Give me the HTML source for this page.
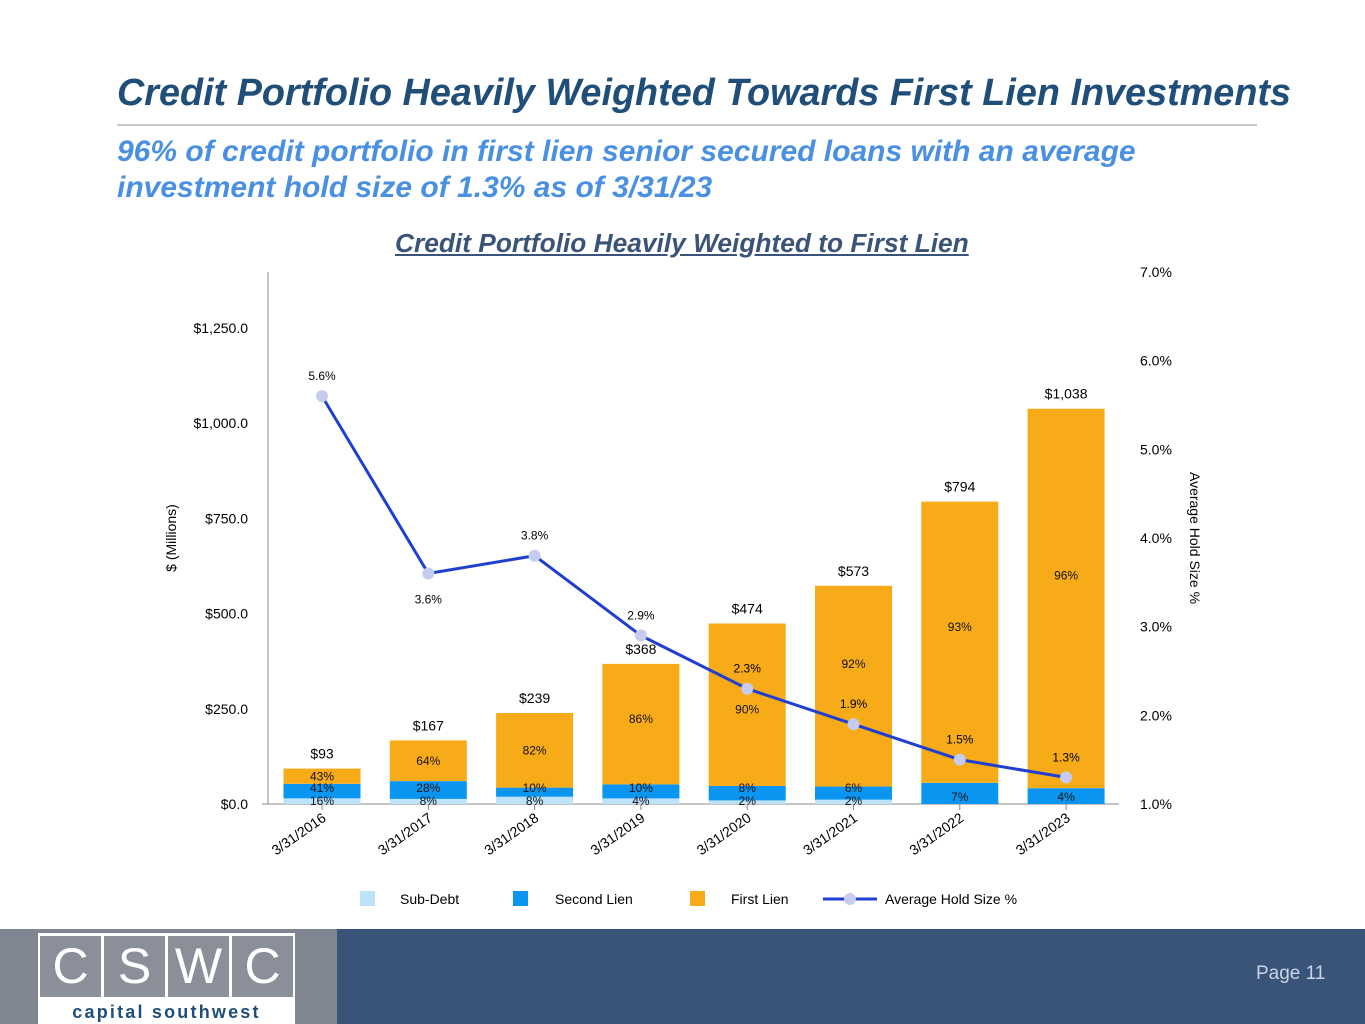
<!DOCTYPE html>
<html><head><meta charset="utf-8"><style>
body{margin:0;width:1365px;height:1024px;overflow:hidden;background:#fff;font-family:"Liberation Sans",Arial,sans-serif;position:relative}
.t{position:absolute;font-weight:bold;font-style:italic}
</style></head><body>
<div class="t" style="left:117px;top:72px;font-size:37.8px;color:#1f4e79;white-space:nowrap">Credit Portfolio Heavily Weighted Towards First Lien Investments</div>
<div style="position:absolute;left:117px;top:124px;width:1140px;height:2px;background:#c8c8c8"></div>
<div class="t" style="left:117px;top:134px;font-size:30px;line-height:36px;color:#4a90e2;white-space:nowrap">96% of credit portfolio in first lien senior secured loans with an average<br>investment hold size of 1.3% as of 3/31/23</div>
<div class="t" style="left:395px;top:228px;font-size:26.3px;color:#3a5479;text-decoration:underline;white-space:nowrap">Credit Portfolio Heavily Weighted to First Lien</div>
<svg id="chart" width="1365" height="929" style="position:absolute;left:0;top:0" font-family="Liberation Sans, Arial, sans-serif"></svg>
<div style="position:absolute;left:0;top:929px;width:1365px;height:95px;background:#3a5479"></div>
<div style="position:absolute;left:0;top:929px;width:337px;height:95px;background:#7f8591"></div>
<div style="position:absolute;left:38px;top:933px;width:257px;height:91px;background:#fff">
<div style="position:absolute;left:2px;top:3px;display:flex;gap:3px">
<div style="width:61px;height:61px;background:#8a8f99;color:#fff;font-size:50px;text-align:center;line-height:61px">C</div>
<div style="width:61px;height:61px;background:#8a8f99;color:#fff;font-size:50px;text-align:center;line-height:61px">S</div>
<div style="width:61px;height:61px;background:#8a8f99;color:#fff;font-size:50px;text-align:center;line-height:61px">W</div>
<div style="width:61px;height:61px;background:#8a8f99;color:#fff;font-size:50px;text-align:center;line-height:61px">C</div></div>
<div style="position:absolute;left:0;width:257px;top:69px;text-align:center;color:#1f4e79;font-size:18px;letter-spacing:2.2px;font-weight:bold">capital southwest</div></div>
<div style="position:absolute;left:1256px;top:963px;color:#c8d4e6;font-size:19px">Page 11</div>
<script>
const categories=["3/31/2016","3/31/2017","3/31/2018","3/31/2019","3/31/2020","3/31/2021","3/31/2022","3/31/2023"];
const totals=[93,167,239,368,474,573,794,1038];
const subDebt=[16,8,8,4,2,2,0,0];
const secondLien=[41,28,10,10,8,6,7,4];
const firstLien=[43,64,82,86,90,92,93,96];
const holdSize=[5.6,3.6,3.8,2.9,2.3,1.9,1.5,1.3];
const leftTicks=[0,250,500,750,1000,1250];
const rightTicks=[1,2,3,4,5,6,7];
const svg=document.getElementById('chart');const NS='http://www.w3.org/2000/svg';
function mk(t,a,txt){const e=document.createElementNS(NS,t);for(const k in a)e.setAttribute(k,a[k]);if(txt!==undefined)e.textContent=txt;svg.appendChild(e);return e;}
const y0=804,yTop=272;
const yL=v=>y0-v*(95.2/250);
const yR=v=>y0-(v-1)*(y0-yTop)/6;
const xC=i=>322+i*106.3;
const bw=77;
const fOff=[0,0,0,-5,5,-22,-15,-23];
let e;
e=mk('line',{x1:268,y1:yTop,x2:268,y2:y0,stroke:'#888'});
e=mk('line',{x1:262,y1:y0,x2:1119,y2:y0,stroke:'#888'});
leftTicks.forEach(v=>{e=mk('text',{x:248,y:yL(v)+5,'text-anchor':'end','font-size':14},'$'+v.toLocaleString('en-US',{minimumFractionDigits:1}));});
rightTicks.forEach(v=>{e=mk('text',{x:1140,y:yR(v)+5,'font-size':14},v.toFixed(1)+'%');});
e=mk('text',{x:0,y:0,'font-size':14,'text-anchor':'middle',transform:'translate(176,538) rotate(-90)'},'$ (Millions)');
e=mk('text',{x:0,y:0,'font-size':14,'text-anchor':'middle',transform:'translate(1190,538) rotate(90)'},'Average Hold Size %');
categories.forEach((c,i)=>{
 const x=xC(i),t=totals[i];
 const segs=[[subDebt[i],'#bde3fb','sub-debt'],[secondLien[i],'#0a96f0','second-lien'],[firstLien[i],'#f8ab19','first-lien']];
 let acc=0;
 segs.forEach(s=>{const v=t*s[0]/100;const ya=yL(acc+v),yb=yL(acc);
  e=mk('rect',{x:x-bw/2,y:ya,width:bw,height:Math.max(0,yb-ya),fill:s[1]});
  acc+=v;});
 const yt=yL(t);
 const yF=yL(t*(subDebt[i]+secondLien[i])/100);
 const lbl=(txt,y,n)=>{e=mk('text',{x:x,y:y,'text-anchor':'middle','font-size':12,fill:'#111'},txt);};
 if(subDebt[i]>0)lbl(subDebt[i]+'%',y0+1,'label-sub-debt');
 lbl(secondLien[i]+'%',subDebt[i]>0?y0-12:y0-3,'label-second-lien');
 const fy=i==0?yt+8:(yt+yF)/2+fOff[i];
 lbl(firstLien[i]+'%',fy+4,'label-first-lien');
 e=mk('text',{x:x,y:yt-10,'text-anchor':'middle','font-size':14},'$'+t.toLocaleString('en-US'));
 e=mk('line',{x1:x,y1:y0,x2:x,y2:y0+6,stroke:'#888'});
 e=mk('text',{x:0,y:0,'font-size':14,'text-anchor':'end',transform:`translate(${x+5},${y0+16}) rotate(-35)`},c);
});
e=mk('polyline',{points:holdSize.map((v,i)=>xC(i)+','+yR(v)).join(' '),fill:'none',stroke:'#1f3fd0','stroke-width':3});
holdSize.forEach((v,i)=>{
 e=mk('circle',{cx:xC(i),cy:yR(v),r:6,fill:'#c5ccf0'});
 const below=(i==1);
 e=mk('text',{x:xC(i),y:below?yR(v)+30:yR(v)-16,'text-anchor':'middle','font-size':12},v.toFixed(1)+'%');
});
const leg=[['Sub-Debt','#bde3fb',360,400],['Second Lien','#0a96f0',513,555],['First Lien','#f8ab19',690,731]];
leg.forEach(l=>{e=mk('rect',{x:l[2],y:891,width:15,height:15,fill:l[1]});
 e=mk('text',{x:l[3],y:904,'font-size':14},l[0]);});
e=mk('line',{x1:823,y1:899,x2:877,y2:899,stroke:'#1f3fd0','stroke-width':3});
e=mk('circle',{cx:850,cy:899,r:6,fill:'#c5ccf0'});
e=mk('text',{x:885,y:904,'font-size':14},'Average Hold Size %');
</script>
</body></html>
